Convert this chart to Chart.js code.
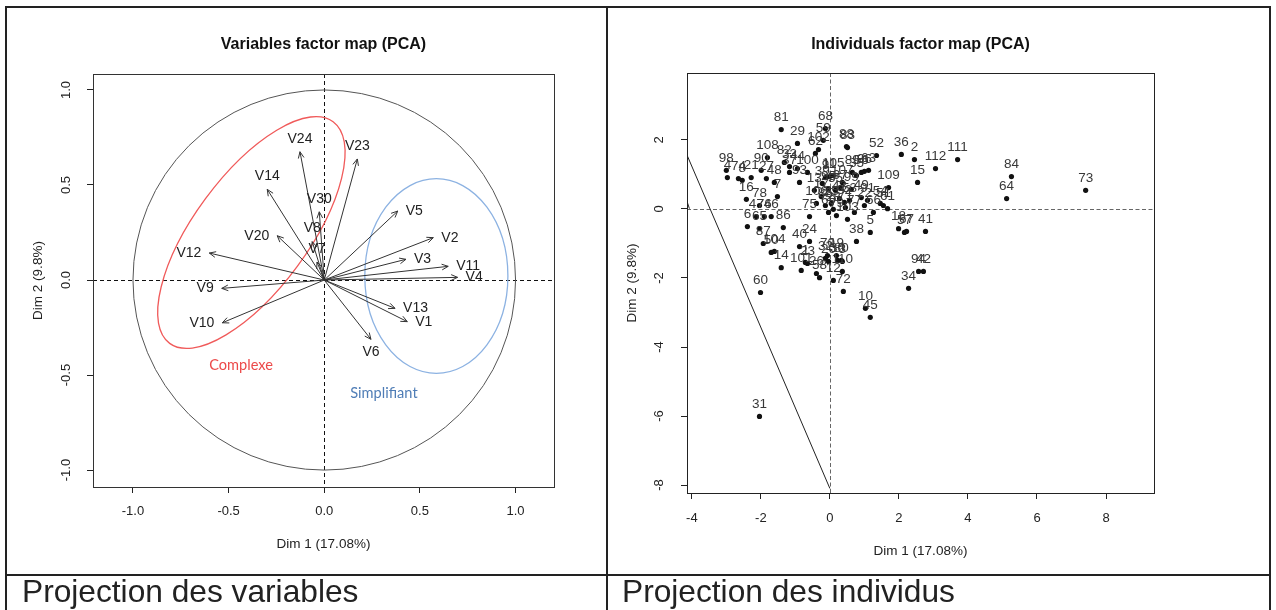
<!DOCTYPE html>
<html lang="fr">
<head>
<meta charset="UTF-8">
<title>ACP - projection des variables et des individus</title>
<script src="https://cdn.jsdelivr.net/npm/chart.js"></script>
<style>
  body { margin: 0; background: #fff; width: 1276px; height: 610px; overflow: hidden; position: relative;
         font-family: "Liberation Sans", Arial, sans-serif; }
  .rule { position: absolute; background: #222; }
  canvas { position: absolute; }
  .caption { position: absolute; font-size: 31.7px; line-height: 31px; color: #222; white-space: nowrap; }
</style>
</head>
<body>
<div class="rule" style="left:5px; top:6px; width:1266px; height:2px"></div>
<div class="rule" style="left:5px; top:6px; width:2px; height:604px"></div>
<div class="rule" style="left:606px; top:6px; width:2px; height:604px"></div>
<div class="rule" style="left:1269px; top:6px; width:2px; height:604px"></div>
<div class="rule" style="left:5px; top:574px; width:1266px; height:2px"></div>

<canvas id="varChart" width="599" height="566" style="left:7px; top:8px; width:599px; height:566px"></canvas>
<canvas id="indChart" width="661" height="566" style="left:608px; top:8px; width:661px; height:566px"></canvas>

<div class="caption" style="left:22px; top:576px">Projection des variables</div>
<div class="caption" style="left:622px; top:576px">Projection des individus</div>

<script>
// --- variables (correlation circle) ---
const varNames = ['V1', 'V2', 'V3', 'V4', 'V5', 'V6', 'V7', 'V8', 'V9', 'V10', 'V11', 'V12',
                  'V13', 'V14', 'V20', 'V23', 'V24', 'V30'];
const varDim1 = [0.434, 0.570, 0.427, 0.697, 0.384, 0.244, -0.038, -0.063, -0.536, -0.533, 0.648, -0.601,
                 0.370, -0.298, -0.246, 0.173, -0.127, -0.026];
const varDim2 = [-0.219, 0.223, 0.109, 0.014, 0.363, -0.312, 0.095, 0.202, -0.044, -0.225, 0.072, 0.142,
                 -0.149, 0.477, 0.233, 0.637, 0.675, 0.359];
const varTicks = [-1.0, -0.5, 0.0, 0.5, 1.0];

// groups drawn as ellipses on the circle
const groupNames = ['Complexe', 'Simplifiant'];
const groupCenterX = [-0.381, 0.586];
const groupCenterY = [0.250, 0.021];
const groupSemiA = [0.720, 0.374];
const groupSemiB = [0.300, 0.512];
const groupAngle = [53.6, 0];
const groupTextX = [-0.435, 0.312];
const groupTextY = [-0.447, -0.595];

// --- individuals ---
const indNames = ['1','2','3','4','5','6','7','8','9','10','11','12','13','14','15','16','17','18','19','20',
  '21','22','23','24','25','26','27','28','29','30','31','32','33','34','35','36','37','38','39','40',
  '41','42','43','44','45','46','47','48','49','50','51','52','53','54','55','56','57','58','59','60',
  '61','62','63','64','65','66','67','68','69','70','71','72','73','74','75','76','77','78','79','80',
  '81','82','83','84','85','86','87','88','89','90','91','92','93','94','95','96','97','98','99','100',
  '101','102','103','104','105','106','107','108','109','110','111','112'];
const indDim1 = [-0.71, 2.45, 0.36, -2.97, 1.17, -2.39, -1.52, -2.54, -0.13, 1.03,
  -0.01, 0.10, -0.45, -1.41, 2.54, -2.42, -0.25, 1.99, 0.19, -0.04,
  -2.28, 1.00, -0.65, -0.59, 0.04, -0.39, -1.84, 0.10, -0.94, 0.22,
  -2.04, -0.13, -1.17, 2.28, 0.77, 2.07, -1.17, 0.77, -0.22, -0.88,
  2.77, 2.71, 0.28, -0.94, 1.17, -1.70, -2.13, -1.61, 0.91, -1.70,
  1.55, 1.35, 0.57, 1.46, 0.16, 0.91, 2.16, -0.30, -0.19, -2.01,
  1.67, -0.42, 1.12, 5.12, -2.04, 1.26, 2.22, -0.13, -0.04, -0.07,
  0.45, 0.39, 7.41, -2.65, -0.59, -1.90, 0.71, -2.04, 0.19, 0.33,
  -1.41, -1.32, 0.51, 5.26, -0.13, -1.35, -1.93, 0.48, 0.65, -1.99,
  1.09, 0.42, -0.88, 2.57, -0.04, 1.00, 0.30, -3.00, 0.62, -0.65,
  -0.83, -0.33, 0.51, -1.61, 0.10, -0.39, 0.36, -1.81, 1.70, 0.36,
  3.70, 3.06];
const indDim2 = [-1.55, 1.43, -1.52, 0.91, -0.68, -0.51, 0.36, 0.83, 0.91, -2.88,
  0.94, -2.07, 0.54, -1.70, 0.77, 0.28, 0.36, -0.57, -1.35, -1.52,
  0.91, 0.10, -1.58, -0.94, 0.16, -1.87, 0.88, -0.01, 1.90, -1.49,
  -6.01, -1.43, 1.23, -2.30, 0.97, 1.58, 1.06, -0.94, 0.74, -1.09,
  -0.65, -1.81, 0.30, 1.17, -3.14, -0.22, -0.22, 0.77, 0.33, -1.26,
  0.10, 1.55, 0.25, 0.16, 0.54, 1.06, -0.68, -1.99, 1.99, -2.42,
  0.01, 1.61, 1.12, 0.30, -0.57, -0.10, -0.65, 2.33, -0.10, -1.35,
  0.04, -2.39, 0.54, 0.88, -0.22, -0.22, -0.10, 0.10, -0.19, -1.49,
  2.30, 1.35, 1.78, 0.94, 0.10, -0.54, -1.00, 1.81, 1.06, 1.12,
  0.25, 0.19, 0.77, -1.81, 0.59, 1.09, 0.62, 1.12, 0.57, 1.06,
  -1.78, 1.72, -0.30, -1.23, 0.97, 0.16, 0.77, 1.49, 0.62, -1.81,
  1.43, 1.17];
const indTicksX = [-4, -2, 0, 2, 4, 6, 8];
const indTicksY = [-8, -6, -4, -2, 0, 2];
// straight segments seen on the individuals map
const edgeX = [-4.16, 0.0];
const edgeY = [1.61, -8.10];
const stubX = [-4.13, -4.07];
const stubY = [0.19, 0.01];

const FONT = '"Liberation Sans", Arial, sans-serif';

function rAxis(ticks, min, max, fmt, title, o) {
  return {
    type: 'linear', min: min, max: max,
    afterBuildTicks: s => { s.ticks = ticks.map(v => ({ value: v })); },
    afterFit: s => { if (o.height) s.height = o.height; if (o.width) s.width = o.width; },
    grid: { drawOnChartArea: false, drawTicks: true, tickLength: 6, color: '#222' },
    border: { display: false },
    ticks: Object.assign({ font: { family: FONT, size: 13 }, color: '#222', autoSkip: false,
                           callback: fmt }, o.ticks),
    title: { display: true, text: title, color: '#222', font: { family: FONT, size: 13.5 }, padding: o.titlePad }
  };
}

function drawBox(chart, color) {
  const { ctx, chartArea: a } = chart;
  ctx.save();
  ctx.strokeStyle = color;
  ctx.lineWidth = 1;
  ctx.strokeRect(Math.round(a.left) + 0.5, Math.round(a.top) + 0.5, Math.round(a.width), Math.round(a.height));
  ctx.restore();
}

function dashedZero(chart, color, dash) {
  const { ctx, chartArea: a, scales: { x, y } } = chart;
  const x0 = Math.round(x.getPixelForValue(0)) + 0.5, y0 = Math.round(y.getPixelForValue(0)) + 0.5;
  ctx.save();
  ctx.strokeStyle = color;
  ctx.lineWidth = 1;
  ctx.setLineDash(dash);
  ctx.beginPath();
  ctx.moveTo(a.left, y0); ctx.lineTo(a.right, y0);
  ctx.moveTo(x0, a.top); ctx.lineTo(x0, a.bottom);
  ctx.stroke();
  ctx.restore();
}

const varDecor = {
  id: 'varDecor',
  beforeDatasetsDraw(chart) {
    const { ctx, chartArea: a, scales: { x, y } } = chart;
    dashedZero(chart, '#111', [4, 3]);
    const x0 = x.getPixelForValue(0), y0 = y.getPixelForValue(0);
    const sx = x.getPixelForValue(1) - x0, sy = y0 - y.getPixelForValue(1);
    ctx.save();
    ctx.beginPath(); ctx.rect(a.left, a.top, a.width, a.height); ctx.clip();
    ctx.strokeStyle = '#555'; ctx.lineWidth = 1;
    ctx.beginPath(); ctx.ellipse(x0, y0, sx, sy, 0, 0, 2 * Math.PI); ctx.stroke();
    const colors = ['#f05a5a', '#8cb2e2'];
    groupNames.forEach((g, i) => {
      ctx.strokeStyle = colors[i]; ctx.lineWidth = 1.3;
      ctx.beginPath();
      ctx.ellipse(x.getPixelForValue(groupCenterX[i]), y.getPixelForValue(groupCenterY[i]),
                  groupSemiA[i] * sx, groupSemiB[i] * sy, -groupAngle[i] * Math.PI / 180, 0, 2 * Math.PI);
      ctx.stroke();
    });
    ctx.restore();
  },
  afterDatasetsDraw(chart) {
    const { ctx, scales: { x, y } } = chart;
    const x0 = x.getPixelForValue(0), y0 = y.getPixelForValue(0);
    ctx.save();
    ctx.strokeStyle = '#333'; ctx.lineWidth = 1;
    ctx.fillStyle = '#222';
    ctx.font = '14px ' + FONT;
    ctx.textBaseline = 'middle';
    varNames.forEach((n, i) => {
      const px = x.getPixelForValue(varDim1[i]), py = y.getPixelForValue(varDim2[i]);
      const th = Math.atan2(py - y0, px - x0);
      ctx.beginPath();
      [0.42, -0.42].forEach(d => {
        ctx.moveTo(px, py);
        ctx.lineTo(px - 7 * Math.cos(th + d), py - 7 * Math.sin(th + d));
      });
      ctx.stroke();
      if (Math.abs(varDim1[i]) > Math.abs(varDim2[i])) {
        const right = varDim1[i] > 0;
        ctx.textAlign = right ? 'left' : 'right';
        ctx.fillText(n, px + (right ? 8 : -8), py);
      } else {
        ctx.textAlign = 'center';
        ctx.fillText(n, px, py + (varDim2[i] > 0 ? -13 : 13));
      }
    });
    const textColors = ['#ec4a4a', '#4f7db6'];
    ctx.font = '14.6px Lato, "Open Sans", sans-serif';
    ctx.textAlign = 'center';
    groupNames.forEach((g, i) => {
      ctx.fillStyle = textColors[i];
      ctx.fillText(g, x.getPixelForValue(groupTextX[i]), y.getPixelForValue(groupTextY[i]));
    });
    ctx.restore();
  },
  afterDraw(chart) { drawBox(chart, '#333'); }
};

const indDecor = {
  id: 'indDecor',
  beforeDatasetsDraw(chart) { dashedZero(chart, '#666', [4, 2.5]); },
  afterDatasetsDraw(chart) {
    const { ctx, chartArea: a, scales: { x, y } } = chart;
    ctx.save();
    ctx.beginPath(); ctx.rect(a.left, a.top, a.width, a.height); ctx.clip();
    ctx.fillStyle = '#383838';
    ctx.font = '13.5px ' + FONT;
    ctx.textAlign = 'center';
    ctx.textBaseline = 'middle';
    indNames.forEach((n, i) => {
      ctx.fillText(n, x.getPixelForValue(indDim1[i]), y.getPixelForValue(indDim2[i]) - 12);
    });
    ctx.restore();
  },
  afterDraw(chart) { drawBox(chart, '#222'); }
};

const common = {
  responsive: false,
  animation: false,
  events: [],
  plugins: { legend: { display: false }, tooltip: { enabled: false } }
};

new Chart(document.getElementById('varChart'), {
  type: 'scatter',
  data: {
    datasets: varNames.map((n, i) => ({
      label: n,
      data: [{ x: 0, y: 0 }, { x: varDim1[i], y: varDim2[i] }],
      showLine: true, borderColor: '#333', borderWidth: 1, pointRadius: 0
    }))
  },
  options: Object.assign({}, common, {
    layout: { padding: { left: 0, right: 52, top: 0, bottom: 17 } },
    plugins: Object.assign({}, common.plugins, {
      title: { display: true, text: 'Variables factor map (PCA)', fullSize: false, color: '#111',
               font: { family: FONT, size: 16, weight: 'bold' }, padding: { top: 26.5, bottom: 20.3 } }
    }),
    scales: {
      x: rAxis(varTicks, -1.209, 1.201, v => v.toFixed(1), 'Dim 1 (17.08%)',
               { height: 70, ticks: { padding: 11, maxRotation: 0 }, titlePad: { top: 0, bottom: 5 } }),
      y: rAxis(varTicks, -1.089, 1.084, v => v.toFixed(1), 'Dim 2 (9.8%)',
               { width: 86, ticks: { padding: 9, minRotation: 90, maxRotation: 90, crossAlign: 'center' },
                 titlePad: { top: 23, bottom: 0 } })
    }
  }),
  plugins: [varDecor]
});

new Chart(document.getElementById('indChart'), {
  type: 'scatter',
  data: {
    datasets: [
      { label: 'individus', data: indDim1.map((v, i) => ({ x: v, y: indDim2[i] })),
        pointRadius: 2.6, backgroundColor: '#111', borderWidth: 0 },
      { label: 'bord', data: edgeX.map((v, i) => ({ x: v, y: edgeY[i] })),
        showLine: true, borderColor: '#222', borderWidth: 1, pointRadius: 0 },
      { label: 'bord2', data: stubX.map((v, i) => ({ x: v, y: stubY[i] })),
        showLine: true, borderColor: '#222', borderWidth: 1, pointRadius: 0 }
    ]
  },
  options: Object.assign({}, common, {
    layout: { padding: { left: 0, right: 115, top: 0, bottom: 11 } },
    plugins: Object.assign({}, common.plugins, {
      title: { display: true, text: 'Individuals factor map (PCA)', fullSize: false, color: '#111',
               font: { family: FONT, size: 16, weight: 'bold' }, padding: { top: 26.5, bottom: 19.3 } }
    }),
    scales: {
      x: rAxis(indTicksX, -4.14, 9.39, v => String(v), 'Dim 1 (17.08%)',
               { height: 70, ticks: { padding: 12, maxRotation: 0 }, titlePad: { top: 0, bottom: 4 } }),
      y: rAxis(indTicksY, -8.23, 3.94, v => String(v), 'Dim 2 (9.8%)',
               { width: 79, ticks: { padding: 16, minRotation: 90, maxRotation: 90, crossAlign: 'center' },
                 titlePad: { top: 16, bottom: 0 } })
    }
  }),
  plugins: [indDecor]
});
</script>
</body>
</html>
